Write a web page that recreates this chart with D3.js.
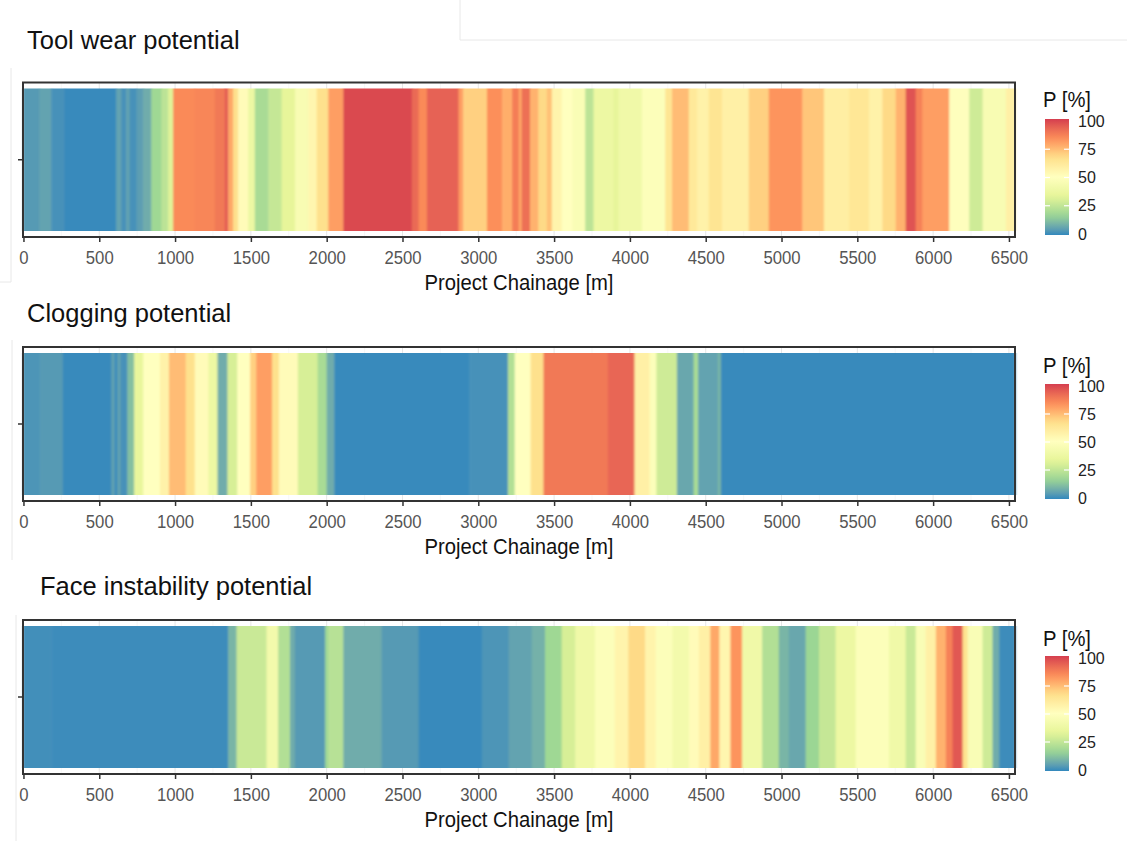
<!DOCTYPE html>
<html>
<head>
<meta charset="utf-8">
<script src="https://cdn.jsdelivr.net/npm/d3@7"></script>
<style>
  body { margin: 0; background: #fff; }
  svg { display: block; font-family: "Liberation Sans", Arial, sans-serif; }
</style>
</head>
<body>
<div id="wrapper"></div>
<script>
width = 1127
height = 841

// chainage where each stripe starts [m] and its potential [%]
const toolStart = [0, 105, 183, 271, 612, 645, 678, 700, 745, 789, 843, 910, 954, 987, 1130, 1262, 1328, 1350, 1383, 1416,
    1482, 1526, 1615, 1703, 1791, 1879, 1934, 2011, 2110, 2562, 2606, 2661, 2870, 2900, 3057, 3157, 3223, 3267, 3286, 3341,
    3396, 3452, 3485, 3550, 3620, 3705, 3760, 3892, 3925, 4079, 4233, 4278, 4388, 4443, 4520, 4608, 4784, 4916, 5137, 5280,
    5445, 5577, 5665, 5753, 5819, 5885, 5929, 6106, 6238, 6326, 6480]
const toolP = [4, 6, 2, 0.5, 6, 2, 6, 2, 5, 8, 18, 24, 32, 84, 85, 88, 94, 78, 66, 52,
    38, 20, 26, 34, 45, 55, 66, 80, 98, 91, 84, 93, 80, 70, 83, 77, 87, 78, 90, 76,
    68, 73, 56, 50, 46, 24, 38, 34, 40, 48, 64, 74, 62, 57, 64, 58, 70, 82, 72, 59,
    63, 57, 68, 76, 96, 86, 80, 49, 28, 45, 58]

const clogStart = [0, 110, 260, 580, 600, 620, 640, 685, 730, 790, 900, 960, 1070, 1130, 1220, 1280, 1345, 1410, 1495, 1535,
    1640, 1685, 1810, 1940, 2000, 2050, 2940, 3195, 3240, 3345, 3430, 3855, 4030, 4130, 4175, 4310, 4420, 4450, 4580, 4600]
const clogP = [3, 4, 0.5, 6, 1, 6, 2, 12, 35, 50, 57, 74, 66, 52, 38, 8, 30, 50, 70, 80,
    66, 52, 30, 20, 8, 0.5, 2, 22, 50, 66, 88, 92, 58, 48, 28, 7, 20, 6, 10, 0.5]

const faceStart = [0, 183, 1350, 1405, 1603, 1680, 1758, 1790, 1990, 2010, 2110, 2363, 2606, 3024, 3200, 3352, 3440, 3550, 3640, 3770,
    3900, 3990, 4100, 4170, 4280, 4390, 4455, 4530, 4590, 4663, 4740, 4872, 4982, 5048, 5159, 5247, 5357, 5489, 5709, 5819,
    5885, 5951, 6018, 6084, 6128, 6194, 6227, 6326, 6392, 6436]
const faceP = [1.5, 1, 10, 27, 42, 22, 8, 4, 18, 23, 8, 4, 0.5, 3, 6, 9, 18, 30, 40, 48,
    56, 68, 56, 48, 42, 52, 58, 78, 55, 82, 40, 22, 10, 7, 17, 26, 38, 48, 40, 27,
    46, 58, 76, 86, 95, 65, 46, 28, 8, 1]

const chainageEnd = 6540
const xTicks = d3.range(0, 6501, 500)
const legendTicks = [0, 25, 50, 75, 100]
const titles = ["Tool wear potential", "Clogging potential", "Face instability potential"]

// where each panel sits on the page
const layout = [
    { top: 82.5, bottom: 237, titleX: 27, titleY: 40, legTitle: 99, leg100: 121, leg0: 234 },
    { top: 347, bottom: 501, titleX: 27, titleY: 313, legTitle: 365, leg100: 386, leg0: 498 },
    { top: 620, bottom: 774, titleX: 40, titleY: 586, legTitle: 638, leg100: 658, leg0: 770 }
]
const series = [[toolStart, toolP], [clogStart, clogP], [faceStart, faceP]]

// Spectral palette (distiller), 0 = blue .. 100 = red
const spectral = ["#3288BD", "#99D594", "#E6F598", "#FFFFBF", "#FEE08B", "#FC8D59", "#D53E4F"]
const interp = d3.piecewise(d3.interpolateLab, spectral)
const color = p => interp(Math.max(0, Math.min(100, p)) / 100)

const x = d3.scaleLinear().domain([-3, chainageEnd]).range([23, 1015])

const svg = d3.select("#wrapper").append("svg")
    .attr("width", width)
    .attr("height", height)

const defs = svg.append("defs")
defs.append("filter").attr("id", "soft")
    .attr("x", "-1%").attr("width", "102%")
    .append("feGaussianBlur").attr("stdDeviation", "1.3 0")

const grad = defs.append("linearGradient").attr("id", "legGrad")
    .attr("x1", 0).attr("y1", 1).attr("x2", 0).attr("y2", 0)
grad.selectAll("stop")
    .data(d3.range(0, 101, 5))
    .join("stop")
    .attr("offset", d => d + "%")
    .attr("stop-color", d => color(d))

// faint screenshot edges
const edges = [[460, 0, 460, 40], [460, 40, 1127, 40], [11, 68, 11, 282], [0, 282, 11, 282], [12, 340, 12, 560], [16, 615, 16, 841]]
svg.append("g").selectAll("line")
    .data(edges)
    .join("line")
    .attr("x1", d => d[0]).attr("y1", d => d[1])
    .attr("x2", d => d[2]).attr("y2", d => d[3])
    .attr("stroke", "#e8e8e8")
    .attr("stroke-width", 1)

function narrowText(g, px, py, txt, size, sx) {
    return g.append("text")
        .attr("transform", `translate(${px},${py}) scale(${sx},1)`)
        .attr("dy", "0.35em")
        .style("font-size", size + "px")
        .text(txt)
}

layout.forEach((L, k) => {
    const [starts, vals] = series[k]
    const g = svg.append("g")
    const heatTop = L.top + 6, heatBottom = L.bottom - 6

    // title
    g.append("text")
        .attr("x", L.titleX)
        .attr("y", L.titleY)
        .attr("dy", "0.35em")
        .style("font-size", "25.5px")
        .attr("fill", "#111")
        .text(titles[k])

    // grid lines (only visible in the white margin)
    g.append("g").selectAll("line")
        .data(d3.range(0, 6501, 250))
        .join("line")
        .attr("x1", d => x(d)).attr("x2", d => x(d))
        .attr("y1", L.top).attr("y2", L.bottom)
        .attr("stroke", d => d % 500 === 0 ? "#e6e6e6" : "#f1f1f1")
        .attr("stroke-width", d => d % 500 === 0 ? 1 : 0.6)

    // stripes
    const stripes = starts.map((s, i) => ({ s: s, e: i < starts.length - 1 ? starts[i + 1] : chainageEnd, p: vals[i] }))
    g.append("g")
        .attr("filter", "url(#soft)")
        .selectAll("rect")
        .data(stripes)
        .join("rect")
        .attr("x", d => x(d.s) - (d.s === 0 ? x(0) - x(-3) : 0))
        .attr("width", d => x(d.e) - x(d.s) + 0.6 + (d.s === 0 ? x(0) - x(-3) : 0))
        .attr("y", heatTop)
        .attr("height", heatBottom - heatTop)
        .attr("fill", d => color(d.p))

    // panel border
    g.append("rect")
        .attr("x", x.range()[0])
        .attr("y", L.top)
        .attr("width", x.range()[1] - x.range()[0])
        .attr("height", L.bottom - L.top)
        .attr("fill", "none")
        .attr("stroke", "#333")
        .attr("stroke-width", 2)

    // y tick (label cut off in original)
    g.append("line")
        .attr("x1", x.range()[0] - 5).attr("x2", x.range()[0])
        .attr("y1", (L.top + L.bottom) / 2).attr("y2", (L.top + L.bottom) / 2)
        .attr("stroke", "#333").attr("stroke-width", 1.5)

    // x axis
    const ax = g.append("g")
        .attr("transform", `translate(0,${L.bottom})`)
        .call(d3.axisBottom(x).tickValues(xTicks).tickFormat(d3.format("d"))
            .tickSize(5).tickPadding(9).tickSizeOuter(0))
    ax.select(".domain").remove()
    ax.selectAll(".tick line").attr("stroke", "#333").attr("stroke-width", 1.5)
    ax.selectAll(".tick text")
        .attr("fill", "#555")
        .style("font-size", "19px")
        .style("font-family", "\"Liberation Sans\", Arial, sans-serif")
        .attr("transform", "scale(0.88,1)")

    narrowText(g, (x.range()[0] + x.range()[1]) / 2, L.bottom + 45, "Project Chainage [m]", 22.5, 0.9)
        .attr("text-anchor", "middle")
        .attr("fill", "#111")

    // legend
    const ly = d3.scaleLinear().domain([0, 100]).range([L.leg0, L.leg100])
    const lg = g.append("g")
    narrowText(lg, 1043, L.legTitle, "P [%]", 22.5, 0.9).attr("fill", "#111")
    lg.append("rect")
        .attr("x", 1045).attr("width", 24)
        .attr("y", ly(100) - 2).attr("height", ly(0) - ly(100) + 3)
        .attr("fill", "url(#legGrad)")
    lg.selectAll(".lt")
        .data(legendTicks.slice(1, 4))
        .join("g")
        .call(s => s.append("line").attr("x1", 1045).attr("x2", 1050))
        .call(s => s.append("line").attr("x1", 1064).attr("x2", 1069))
        .selectAll("line")
        .attr("y1", function () { return ly(d3.select(this.parentNode).datum()) })
        .attr("y2", function () { return ly(d3.select(this.parentNode).datum()) })
        .attr("stroke", "#fff").attr("stroke-width", 1.2)
    lg.selectAll(".ll")
        .data(legendTicks)
        .join("text")
        .attr("x", 1078)
        .attr("y", d => ly(d))
        .attr("dy", "0.35em")
        .style("font-size", "16px")
        .attr("fill", "#222")
        .text(d => d)
})
</script>
</body>
</html>
